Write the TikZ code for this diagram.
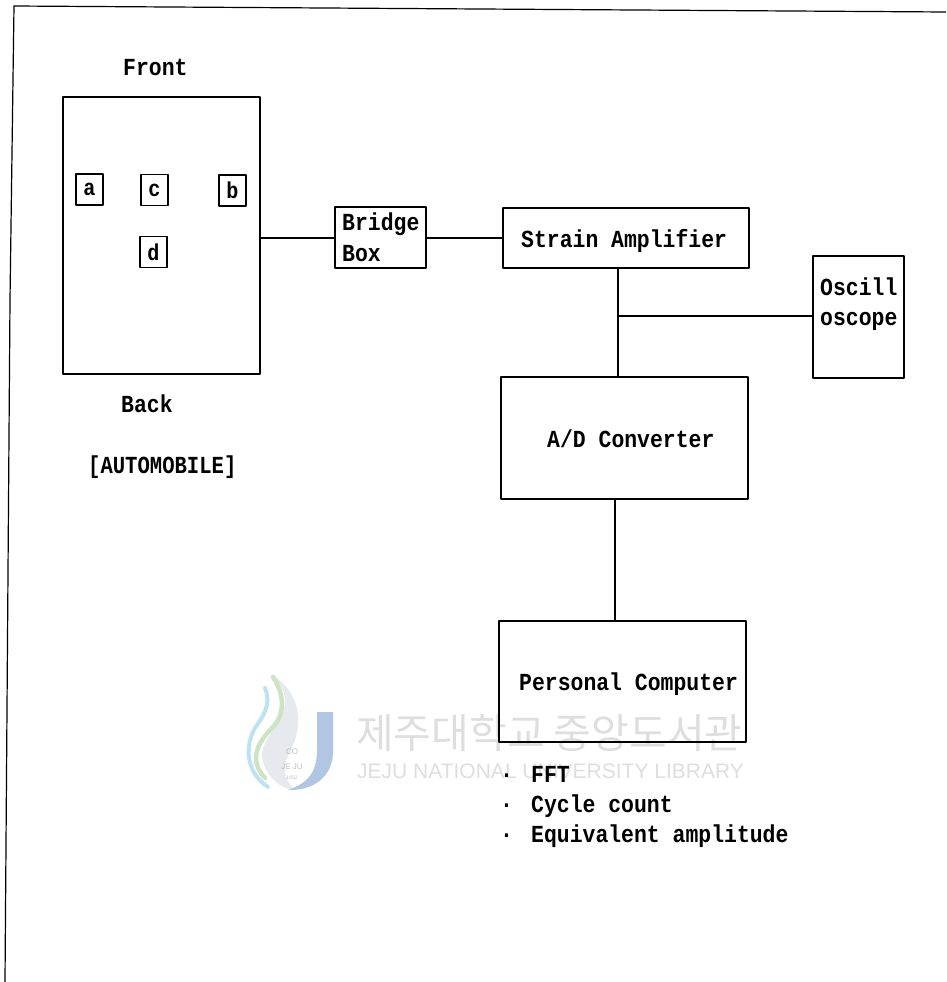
\documentclass[tikz,border=0pt]{standalone}
\usepackage{fontspec}
\setmainfont[FakeStretch=0.875]{Liberation Mono}
\newfontfamily\krfont{Noto Sans CJK KR}
\newfontfamily\wmfont{Liberation Sans}
\definecolor{wmgray}{RGB}{222,222,222}
\definecolor{wmblue}{RGB}{176,198,226}
\definecolor{wmsky}{RGB}{190,226,242}
\definecolor{wmgreen}{RGB}{205,228,196}
\definecolor{wmlight}{RGB}{230,233,238}
\definecolor{wmseal}{RGB}{190,190,190}
\tikzset{
  x=1pt,y=-1pt,
  boxed/.style={draw=black,line width=1.7pt,rectangle,inner sep=0pt,line join=round},
  wire/.style={draw=black,line width=1.7pt},
  lab/.style={anchor=base west,inner sep=0pt,font=\fontsize{24.5}{26}\selectfont\bfseries},
  tag/.style={font=\fontsize{23}{26}\selectfont\bfseries,inner sep=0pt},
  wmk/.style={inner sep=0pt,text=wmgray},
  seal/.style={inner sep=0pt,text=wmseal,font=\wmfont\fontsize{8}{9}\selectfont}
}
\begin{document}
\begin{tikzpicture}
\useasboundingbox (0,0) rectangle (946,982);
% watermark
\fill[wmlight] (272,675) .. controls (290,685) and (300,705) .. (298,725) .. controls (297,745) and (282,760) .. (285,772) .. controls (286,780) and (290,786) .. (296,790) .. controls (280,790) and (265,775) .. (262,758) .. controls (260,740) and (285,720) .. (285,702) .. controls (285,692) and (280,682) .. (272,675) -- cycle;
\draw[wmsky,line width=4pt,line cap=round] (265,688) .. controls (272,705) and (262,718) .. (255,728) .. controls (245,745) and (245,772) .. (268,787);
\draw[wmgreen,line width=4.5pt,line cap=round] (273,677) .. controls (285,695) and (285,715) .. (272,728) .. controls (258,742) and (248,760) .. (265,778);
\fill[wmblue] (317,712) -- (333,712) -- (333,752) .. controls (333,775) and (315,791) .. (288,790) .. controls (305,784) and (317,775) .. (317,750) -- cycle;
\node[seal] (sealco) at (292,752) {CO};
\node[seal] (sealje) at (292,767) {JE JU};
\node[seal,font=\wmfont\fontsize{5}{6}\selectfont] (sealyr) at (292,778) {1952};
\node[wmk,anchor=west,font=\krfont\fontsize{41}{45}\selectfont] (wmkr) at (356,733) {제주대학교 중앙도서관};
\node[wmk,anchor=west,font=\wmfont\fontsize{21}{24}\selectfont] (wmen) at (357,771) {JEJU NATIONAL UNIVERSITY LIBRARY};
% frame
\draw[line width=1.2pt] (5,982) -- (10,300) -- (14,6) -- (946,12);
% boxes
\node[boxed,minimum width=197pt,minimum height=277pt] (car) at (161.5,235.5) {};
\node[boxed,minimum width=27pt,minimum height=31pt] (a) at (89.5,189.5) {};
\node[boxed,minimum width=27pt,minimum height=31pt] (c) at (154.5,190) {};
\node[boxed,minimum width=27pt,minimum height=31pt] (b) at (232.5,190.5) {};
\node[boxed,minimum width=27pt,minimum height=31pt] (d) at (153.5,252) {};
\node[tag] at (a) {a};
\node[tag] at (c) {c};
\node[tag] at (b) {b};
\node[tag] at (d) {d};
\node[boxed,minimum width=91pt,minimum height=61pt] (bridge) at (380.5,237.5) {};
\node[boxed,minimum width=246pt,minimum height=60pt] (strain) at (626,238) {};
\node[boxed,minimum width=91pt,minimum height=122pt] (osc) at (858.5,317) {};
\node[boxed,minimum width=247pt,minimum height=122pt] (adc) at (624.5,438) {};
\node[boxed,minimum width=247pt,minimum height=121pt] (pc) at (622.5,681.5) {};
% connectors
\coordinate (sdrop) at (618,268);
\coordinate (adrop) at (618,377);
\coordinate (junction) at (618,316);
\coordinate (ain) at (615,499);
\coordinate (pin) at (615,621);
\draw[wire] (car.east |- strain) -- (bridge.west |- strain);
\draw[wire] (bridge.east |- strain) -- (strain.west);
\draw[wire] (sdrop) -- (adrop);
\draw[wire] (junction) -- (osc.west |- junction);
\draw[wire] (ain) -- (pin);
% labels
\node[lab] (tfront) at (123,75) {Front};
\node[lab] (tback) at (121,412) {Back};
\node[lab,xscale=0.96,transform shape] (tauto) at (88,473) {[AUTOMOBILE]};
\node[lab] (tbr1) at (342,230) {Bridge};
\node[lab] (tbr2) at (342,261) {Box};
\node[lab] (tstrain) at (521,247) {Strain Amplifier};
\node[lab] (tosc1) at (820,295) {Oscill};
\node[lab] (tosc2) at (820,325) {oscope};
\node[lab] (tadc) at (547,447) {A/D Converter};
\node[lab] (tpc) at (519,690) {Personal Computer};
\node[lab] (dot1) at (500,782) {·};
\node[lab] (dot2) at (500,812) {·};
\node[lab] (dot3) at (500,842) {·};
\node[lab] (tfft) at (531,782) {FFT};
\node[lab] (tcyc) at (531,812) {Cycle count};
\node[lab] (teq) at (531,842) {Equivalent amplitude};
\end{tikzpicture}
\end{document}
